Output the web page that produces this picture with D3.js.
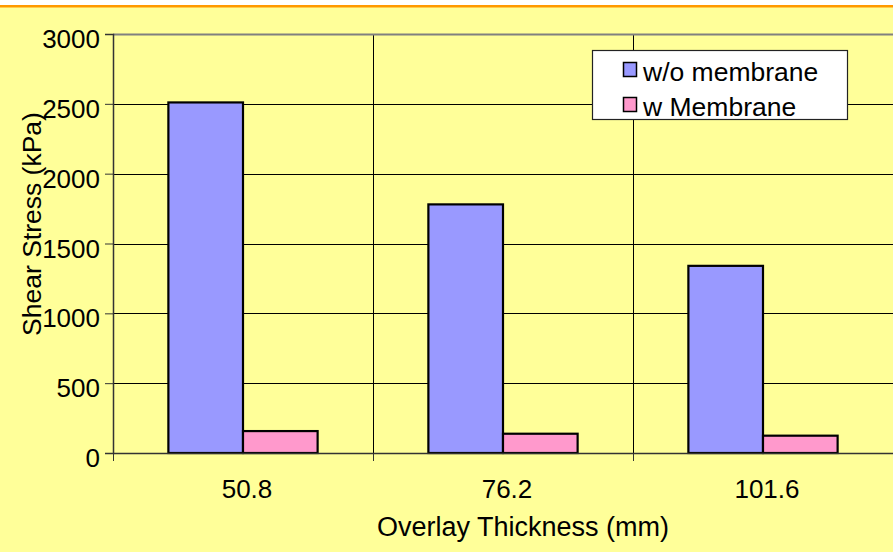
<!DOCTYPE html>
<html>
<head>
<meta charset="utf-8">
<script src="https://cdn.jsdelivr.net/npm/d3@7"></script>
<style>
  html, body { margin: 0; padding: 0; background: #ffffff; }
  svg { display: block; font-family: "Liberation Sans", Arial, sans-serif; }
</style>
</head>
<body>
<svg id="chart" width="893" height="552"></svg>
<script>
// Shear stress at the overlay interface, with and without a membrane
const categories = ["50.8", "76.2", "101.6"];
const seriesNames = ["w/o membrane", "w Membrane"];
const withoutMembrane = [2510, 1780, 1340];
const withMembrane = [157, 138, 124];
const yTicks = [0, 500, 1000, 1500, 2000, 2500, 3000];

const colors = ["#9999ff", "#ff99cc"];
const seriesValues = [withoutMembrane, withMembrane];

const svg = d3.select("#chart");
const W = 893, H = 552;

// page background: white strip, orange rule, pale yellow fill
svg.append("rect").attr("x", 0).attr("y", 0).attr("width", W).attr("height", H).attr("fill", "#ffffff");
svg.append("rect").attr("x", 0).attr("y", 7).attr("width", W).attr("height", H - 7).attr("fill", "#ffff99");
svg.append("rect").attr("x", 0).attr("y", 5).attr("width", W).attr("height", 2.5).attr("fill", "#ff9900");

const plot = { left: 113, right: 893, top: 34, bottom: 453 };

const x = d3.scaleBand().domain(categories).range([plot.left, plot.right]).paddingInner(0).paddingOuter(0);
const gap = x.bandwidth() * 0.213;
const xs = d3.scaleBand().domain(d3.range(seriesNames.length)).range([gap, x.bandwidth() - gap]).padding(0);
const y = d3.scaleLinear().domain([0, 3000]).range([plot.bottom, plot.top]);

// horizontal gridlines
svg.append("g").selectAll("line").data(yTicks.filter(t => t > 0 && t < 3000)).join("line")
  .attr("x1", plot.left).attr("x2", plot.right)
  .attr("y1", d => Math.round(y(d)) + 0.5).attr("y2", d => Math.round(y(d)) + 0.5)
  .attr("stroke", "#000").attr("stroke-width", 1);

// vertical gridlines at category boundaries
const bounds = categories.slice(1).map(c => x(c));
svg.append("g").selectAll("line").data(bounds).join("line")
  .attr("x1", d => Math.round(d) + 0.5).attr("x2", d => Math.round(d) + 0.5)
  .attr("y1", plot.top).attr("y2", plot.bottom)
  .attr("stroke", "#000").attr("stroke-width", 1);

// top border of the plot area
svg.append("line").attr("x1", plot.left).attr("x2", plot.right)
  .attr("y1", plot.top + 0.5).attr("y2", plot.top + 0.5)
  .attr("stroke", "#808080").attr("stroke-width", 2);

// bars
const groups = svg.append("g").selectAll("g").data(categories).join("g")
  .attr("transform", d => `translate(${x(d)},0)`);
groups.selectAll("rect").data((d, i) => seriesValues.map((vals, s) => ({ s, v: vals[i] }))).join("rect")
  .attr("x", d => xs(d.s))
  .attr("y", d => y(d.v))
  .attr("width", xs.bandwidth())
  .attr("height", d => y(0) - y(d.v))
  .attr("fill", d => colors[d.s])
  .attr("stroke", "#000").attr("stroke-width", 2.2);

// y axis
const yAxis = d3.axisLeft(y).tickValues(yTicks).tickSize(8).tickPadding(5).tickFormat(d3.format("d"));
const gy = svg.append("g").attr("transform", `translate(${plot.left},0)`).call(yAxis);
gy.select(".domain").attr("stroke", "#333").attr("stroke-width", 1.5);
gy.selectAll(".tick line").attr("stroke", "#333");
gy.selectAll(".tick text").attr("font-size", 26).attr("fill", "#000")
  .attr("font-family", "'Liberation Sans', Arial, sans-serif").attr("dy", "0.52em");

// x axis: ticks at category boundaries, labels at category centers
const gx = svg.append("g");
gx.append("line").attr("x1", plot.left).attr("x2", plot.right)
  .attr("y1", plot.bottom + 0.5).attr("y2", plot.bottom + 0.5)
  .attr("stroke", "#333").attr("stroke-width", 1.5);
const tickPos = categories.map(c => x(c));
gx.selectAll("line.tk").data(tickPos).join("line").attr("class", "tk")
  .attr("x1", d => Math.round(d) + 0.5).attr("x2", d => Math.round(d) + 0.5)
  .attr("y1", plot.bottom).attr("y2", plot.bottom + 8)
  .attr("stroke", "#333").attr("stroke-width", 1);
gx.selectAll("text").data(categories).join("text")
  .attr("x", d => x(d) + x.bandwidth() / 2 + 4)
  .attr("y", 498)
  .attr("text-anchor", "middle").attr("font-size", 26).attr("fill", "#000")
  .text(d => d);

// axis titles
svg.append("text").attr("x", 523).attr("y", 536).attr("text-anchor", "middle")
  .attr("font-size", 27).attr("fill", "#000").text("Overlay Thickness (mm)");
svg.append("text").attr("transform", "translate(41,224) rotate(-90)").attr("text-anchor", "middle")
  .attr("font-size", 26.5).attr("fill", "#000").text("Shear Stress (kPa)");

// legend
const lg = svg.append("g");
lg.append("rect").attr("x", 592.5).attr("y", 50.5).attr("width", 255).attr("height", 69)
  .attr("fill", "#fff").attr("stroke", "#222").attr("stroke-width", 1.2);
const rows = lg.selectAll("g").data(seriesNames).join("g")
  .attr("transform", (d, i) => `translate(0,${i * 35})`);
rows.append("rect").attr("x", 623.5).attr("y", 62.5).attr("width", 13).attr("height", 14)
  .attr("fill", (d, i) => colors[i]).attr("stroke", "#000").attr("stroke-width", 1.5);
rows.append("text").attr("x", 643).attr("y", 81)
  .attr("font-size", 26.5).attr("fill", "#000").text(d => d);
</script>
</body>
</html>
